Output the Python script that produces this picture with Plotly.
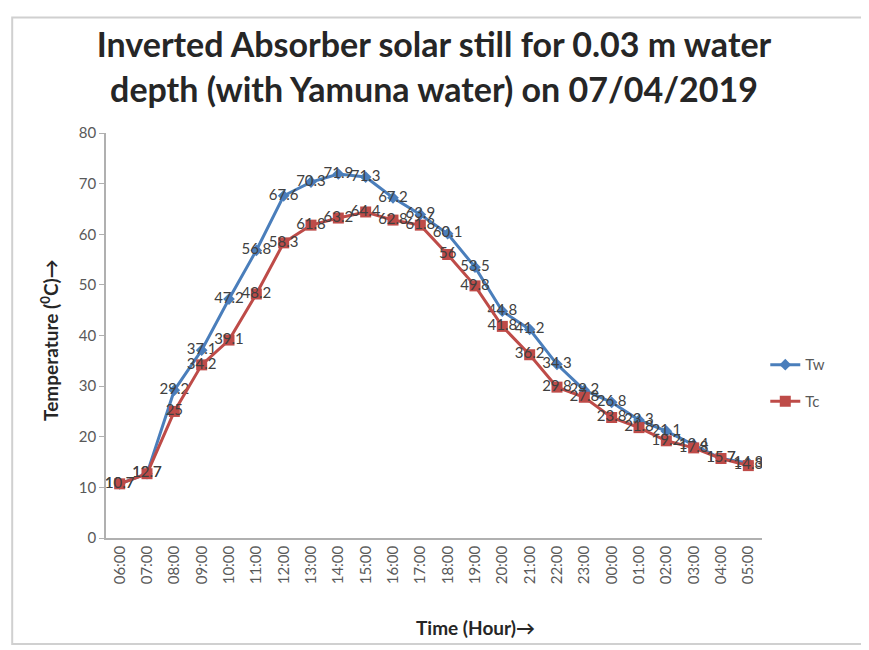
import plotly.graph_objects as go

hours = ["06:00", "07:00", "08:00", "09:00", "10:00", "11:00", "12:00", "13:00",
         "14:00", "15:00", "16:00", "17:00", "18:00", "19:00", "20:00", "21:00",
         "22:00", "23:00", "00:00", "01:00", "02:00", "03:00", "04:00", "05:00"]
tw = [10.7, 12.7, 29.2, 37.1, 47.2, 56.8, 67.6, 70.3, 71.9, 71.3, 67.2, 63.9,
      60.1, 53.5, 44.8, 41.2, 34.3, 29.2, 26.8, 23.3, 21.1, 18.4, 15.7, 14.8]
tc = [10.7, 12.7, 25, 34.2, 39.1, 48.2, 58.3, 61.8, 63.2, 64.4, 62.8, 61.8,
      56, 49.8, 41.8, 36.2, 29.8, 27.8, 23.8, 21.8, 19.2, 17.8, 15.7, 14.3]
y_ticks = [0, 10, 20, 30, 40, 50, 60, 70, 80]

FONT = "Lato, 'Open Sans', sans-serif"
LABEL_COLOR = "#404040"

fig = go.Figure()
fig.add_trace(go.Scatter(
    x=hours, y=tw, name="Tw", mode="lines+markers+text",
    line=dict(color="#4a7ebb", width=3),
    marker=dict(symbol="diamond", size=9, color="#4a7ebb"),
    text=[str(v) for v in tw], textposition="middle center",
    textfont=dict(family=FONT, size=15, color=LABEL_COLOR),
    legendgroup="a",
))
fig.add_trace(go.Scatter(
    x=hours, y=tc, name="Tc", mode="lines+markers+text",
    line=dict(color="#be4b48", width=3),
    marker=dict(symbol="square", size=11, color="#be4b48"),
    text=[str(v) for v in tc], textposition="middle center",
    textfont=dict(family=FONT, size=15, color=LABEL_COLOR),
    legendgroup="b",
))

fig.update_layout(
    width=869, height=650,
    margin=dict(l=98, r=115, t=125, b=120),
    paper_bgcolor="white", plot_bgcolor="white",
    font=dict(family=FONT, color="#595959"),
    title=dict(
        text="<b>Inverted Absorber solar still for 0.03 m water<br>depth (with Yamuna water) on 07/04/2019</b>",
        x=0.5, xanchor="center", xref="paper", y=0.924, yanchor="middle",
        font=dict(family=FONT, size=34, color="#262626"),
    ),
    showlegend=True,
    legend=dict(
        x=1.005, xanchor="left", y=0.383, yanchor="middle",
        font=dict(family=FONT, size=15, color="#595959"),
        tracegroupgap=14, bgcolor="rgba(0,0,0,0)",
    ),
    shapes=[dict(
        type="rect", xref="paper", yref="paper",
        x0=-0.143, x1=1.16, y0=-0.262, y1=1.285,
        line=dict(color="#d0d0d0", width=2), fillcolor="rgba(0,0,0,0)", layer="below",
    )],
    annotations=[
        dict(text="<b>Time (Hour)→</b>", xref="paper", yref="paper",
             x=0.5625, y=-0.222, xanchor="center", yanchor="middle", showarrow=False,
             font=dict(family=FONT, size=19, color="#262626")),
        dict(text="<b>Temperature (<sup>0</sup>C)→</b>", xref="paper", yref="paper",
             x=-0.0854, y=0.489, xanchor="center", yanchor="middle", showarrow=False,
             textangle=-90, font=dict(family=FONT, size=19, color="#262626")),
    ],
)
fig.update_xaxes(
    type="category", categoryorder="array", categoryarray=hours,
    range=[-0.5, len(hours) - 0.5],
    tickangle=-90, tickfont=dict(family=FONT, size=15, color="#595959"),
    showline=True, linecolor="#b0b0b0", linewidth=1.5,
    ticks="", showgrid=False, zeroline=False,
)
fig.update_yaxes(
    range=[0, 80], tickvals=y_ticks,
    tickfont=dict(family=FONT, size=15, color="#595959"),
    showline=True, linecolor="#b0b0b0", linewidth=1.5,
    ticks="outside", ticklen=5, tickcolor="#b0b0b0",
    showgrid=False, zeroline=False,
)

fig.write_html("out.html")
